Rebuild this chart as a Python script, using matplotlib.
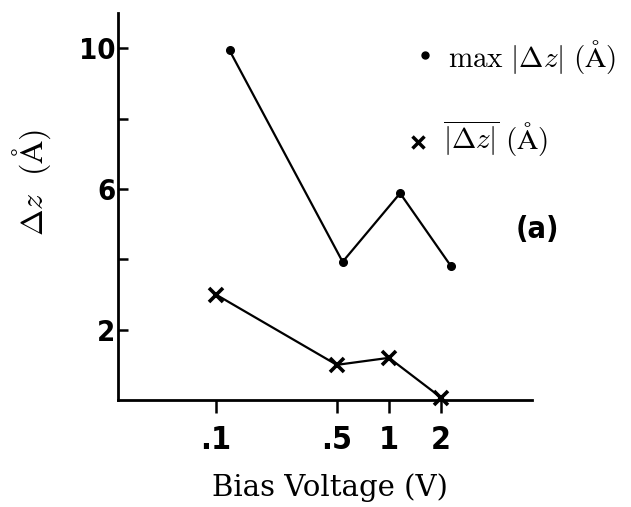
import matplotlib
matplotlib.use('Agg')
import matplotlib.pyplot as plt

plt.rcParams['mathtext.fontset'] = 'cm'

# bias voltage (V) and tip height change (angstrom)
bias_max = [0.12, 0.54, 1.16, 2.28]
dz_max = [9.94, 3.93, 5.88, 3.81]
bias_mean = [0.1, 0.5, 1.0, 2.0]
dz_mean = [3.0, 1.0, 1.2, 0.07]

xticks = [0.1, 0.5, 1, 2]
xticklabels = ['.1', '.5', '1', '2']
yticks = [2, 4, 6, 8, 10]
yticklabels = ['2', '', '6', '', '10']

bold_narrow = dict(family='DejaVu Sans', weight='bold', stretch='condensed')

fig = plt.figure(figsize=(6.31, 5.07), dpi=100)
ax = fig.add_axes([0.187, 0.211, 0.656, 0.763])

ax.plot(bias_max, dz_max, color='black', lw=1.6, marker='o', ms=5.5)
ax.plot(bias_mean, dz_mean, color='black', lw=1.6, marker='x', ms=9.5, mew=2.6,
        clip_on=False)

ax.set_xscale('log')
ax.set_xlim(0.0272, 6.7)
ax.set_ylim(0.0, 11.0)
ax.set_xticks(xticks)
ax.set_xticklabels(xticklabels, fontsize=23, **bold_narrow)
ax.minorticks_off()
ax.set_yticks(yticks)
ax.set_yticklabels(yticklabels, fontsize=21, **bold_narrow)

ax.tick_params(axis='x', direction='out', length=9, width=1.8, pad=9)
ax.tick_params(axis='y', direction='in', length=7, width=1.8, pad=2)
for side in ('top', 'right'):
    ax.spines[side].set_visible(False)
for side in ('left', 'bottom'):
    ax.spines[side].set_linewidth(2.0)

fig.text(0.0507, 0.641, r'$\Delta z\ \ (\mathrm{\AA})$', rotation=90, fontsize=23,
         ha='center', va='center')
fig.text(0.523, 0.039, 'Bias Voltage (V)', fontsize=21, family='serif',
         ha='center', va='center', math_fontfamily='cm')

# legend drawn by hand
fig.lines.append(plt.Line2D([0.6735], [0.8915], marker='o', ms=5, color='black',
                            transform=fig.transFigure))
fig.text(0.71, 0.888, r'$\max\ |\Delta z|\ (\mathrm{\AA})$', fontsize=21,
         ha='left', va='center')
fig.lines.append(plt.Line2D([0.6624], [0.720], marker='x', ms=8, mew=2.5,
                            color='black', transform=fig.transFigure))
fig.text(0.702, 0.726, r'$\overline{|\Delta z|}\ (\mathrm{\AA})$', fontsize=21,
         ha='left', va='center')

fig.text(0.851, 0.548, '(a)', fontsize=22, ha='center', va='center', **bold_narrow)

fig.savefig('out.png', dpi=100)
